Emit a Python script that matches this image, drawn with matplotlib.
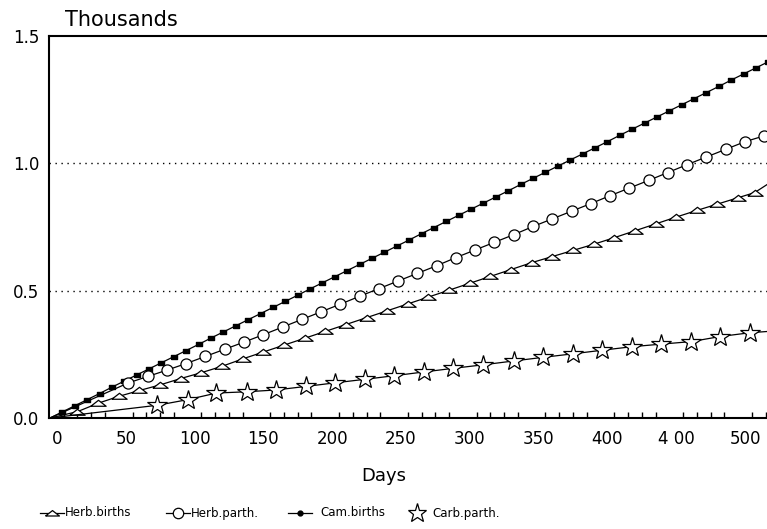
import matplotlib
matplotlib.use("Agg")
import matplotlib.pyplot as plt
import matplotlib.transforms as mtransforms
from matplotlib.lines import Line2D

# ---- data (values in thousands) ----
carn_births_days = [0, 9, 18, 27, 36, 45, 54, 63, 72, 81, 90, 99, 108, 117, 126, 135, 144, 153,
                    162, 171, 180, 189, 198, 207, 216, 225, 234, 243, 252, 261, 270, 279, 288,
                    297, 306, 315, 324, 333, 342, 351, 360, 369, 378, 387, 396, 405, 414, 423,
                    432, 441, 450, 459, 468, 477, 486, 495, 504, 513, 522]
carn_births = [0.000, 0.024, 0.048, 0.072, 0.096, 0.121, 0.145, 0.169, 0.193, 0.217, 0.241,
               0.265, 0.289, 0.314, 0.338, 0.362, 0.386, 0.410, 0.434, 0.458, 0.482, 0.507,
               0.531, 0.555, 0.579, 0.603, 0.627, 0.651, 0.675, 0.699, 0.724, 0.748, 0.772,
               0.796, 0.820, 0.844, 0.868, 0.892, 0.917, 0.941, 0.965, 0.989, 1.013, 1.037,
               1.061, 1.085, 1.110, 1.134, 1.158, 1.182, 1.206, 1.230, 1.254, 1.278, 1.302,
               1.327, 1.351, 1.375, 1.399]

herb_parth_days = [0, 57, 71, 85, 99, 113, 127, 141, 155, 169, 183, 197, 211, 225, 239, 253,
                   267, 281, 295, 309, 323, 337, 351, 365, 379, 393, 407, 421, 435, 449, 463,
                   477, 491, 505, 519, 522]
herb_parth = [0.000, 0.138, 0.163, 0.188, 0.214, 0.242, 0.270, 0.298, 0.327, 0.357, 0.387,
              0.417, 0.447, 0.478, 0.508, 0.538, 0.568, 0.598, 0.630, 0.660, 0.690, 0.720,
              0.752, 0.782, 0.812, 0.842, 0.873, 0.903, 0.933, 0.964, 0.995, 1.025, 1.055,
              1.085, 1.108, 1.112]

herb_births_days = [0, 20, 35, 50, 65, 80, 95, 110, 125, 140, 155, 170, 185, 200, 215, 230,
                    245, 260, 275, 290, 305, 320, 335, 350, 365, 380, 395, 410, 425, 440, 455,
                    470, 485, 500, 512, 522]
herb_births = [0.000, 0.025, 0.058, 0.085, 0.108, 0.130, 0.155, 0.178, 0.203, 0.232, 0.259,
               0.286, 0.313, 0.340, 0.367, 0.394, 0.421, 0.448, 0.475, 0.502, 0.529, 0.556,
               0.583, 0.610, 0.634, 0.658, 0.682, 0.708, 0.735, 0.762, 0.789, 0.815, 0.840,
               0.865, 0.885, 0.920]

carb_parth_days = [0, 78, 100, 121, 143, 164, 186, 207, 229, 250, 272, 293, 315, 337, 358,
                   380, 401, 423, 444, 466, 487, 509, 522]
carb_parth = [0.000, 0.050, 0.072, 0.098, 0.103, 0.110, 0.124, 0.138, 0.152, 0.166, 0.181,
              0.195, 0.209, 0.224, 0.238, 0.252, 0.266, 0.280, 0.290, 0.300, 0.320, 0.335,
              0.340]

x_ticks = [0, 50, 100, 150, 200, 250, 300, 350, 400, 450, 500]
x_tick_labels = ["0", "50", "100", "150", "200", "250", "300", "350", "400", "4 00", "500"]
y_ticks = [0.0, 0.5, 1.0, 1.5]
y_tick_labels = ["0.0", "0.5", "1.0", "1.5"]
grid_levels = [0.5, 1.0]
legend_labels = ["Herb.births", "Herb.parth.", "Cam.births", "Carb.parth."]

plt.rcParams['font.family'] = ['DejaVu Sans']

W, H = 767, 529
fig = plt.figure(figsize=(W / 100, H / 100), dpi=100)
ax = fig.add_axes([49 / W, 1 - 418 / H, 1 - 49 / W, (418 - 36) / H])

tri = [(-1, -0.36), (1, -0.36), (0, 0.42), (-1, -0.36)]
rect = [(-1, -0.55), (1, -0.55), (1, 0.55), (-1, 0.55), (-1, -0.55)]
lw = 0.9

styles = [
    dict(marker=tri, ms=11, mfc='white', mec='black', mew=0.9),
    dict(marker='o', ms=8, mfc='white', mec='black', mew=0.9),
    dict(marker=rect, ms=4.4, mfc='black', mec='black'),
    dict(marker='*', ms=15, mfc='white', mec='black', mew=0.9),
]

ax.plot(carn_births_days, carn_births, color='black', lw=lw, markevery=slice(1, None), **styles[2])
ax.plot(herb_parth_days, herb_parth, color='black', lw=lw, markevery=slice(1, -1), **styles[1])
ax.plot(herb_births_days, herb_births, color='black', lw=lw, markevery=slice(1, -1), **styles[0])
ax.plot(carb_parth_days, carb_parth, color='black', lw=lw, markevery=slice(1, -1), **styles[3])

for g in grid_levels:
    ax.axhline(g, color='black', lw=1.0, ls=(0, (1, 3.3)), zorder=0)

ax.set_xlim(-0.7, 521)
ax.set_ylim(0, 1.5)

ax.set_xticks(x_ticks)
ax.set_xticklabels(x_tick_labels)
ax.set_xticks(list(range(0, 521, 10)), minor=True)
ax.tick_params(axis='x', which='major', length=0, pad=9, labelsize=12)
ax.tick_params(axis='x', which='minor', direction='in', length=4.3, width=1.0, top=False)
ax.set_yticks(y_ticks)
ax.set_yticklabels(y_tick_labels)
ax.tick_params(axis='y', which='both', length=0, pad=7, labelsize=12)

offset = mtransforms.ScaledTranslation(7 / 100, 0, fig.dpi_scale_trans)
for lab in ax.get_xticklabels():
    lab.set_transform(lab.get_transform() + offset)

for s in ['left', 'bottom', 'top']:
    ax.spines[s].set_linewidth(1.5)
ax.spines['right'].set_visible(False)

ax.set_xlabel("Days", fontsize=13, labelpad=13)
ax.xaxis.label.set_x((384 - 49) / (W - 49))
fig.text(65 / W, 1 - 26 / H, "Thousands", fontsize=15, ha='left', va='baseline')

# ---- legend drawn manually (pixel layout of the reference) ----
leg_y = 1 - 513 / H
handle_spans = [(40, 64), (166, 190), (288, 312), (408, 426)]
text_x = [65, 191, 320, 432]
leg_styles = [
    dict(marker=tri, ms=10, mfc='white', mec='black', mew=0.9),
    dict(marker='o', ms=7.5, mfc='white', mec='black', mew=0.9),
    dict(marker='o', ms=3.5, mfc='black', mec='black'),
    dict(marker='*', ms=14, mfc='white', mec='black', mew=0.9),
]
for (x0, x1), tx, lab, st in zip(handle_spans, text_x, legend_labels, leg_styles):
    line_lw = 0 if lab == "Carb.parth." else lw
    fig.add_artist(Line2D([x0 / W, x1 / W], [leg_y, leg_y], color='black', lw=line_lw,
                          transform=fig.transFigure))
    fig.add_artist(Line2D([(x0 + x1) / 2 / W], [leg_y], color='black', lw=0,
                          transform=fig.transFigure, **st))
    fig.text(tx / W, leg_y, lab, fontsize=8.5, ha='left', va='center')

fig.savefig("out.png", dpi=100)
